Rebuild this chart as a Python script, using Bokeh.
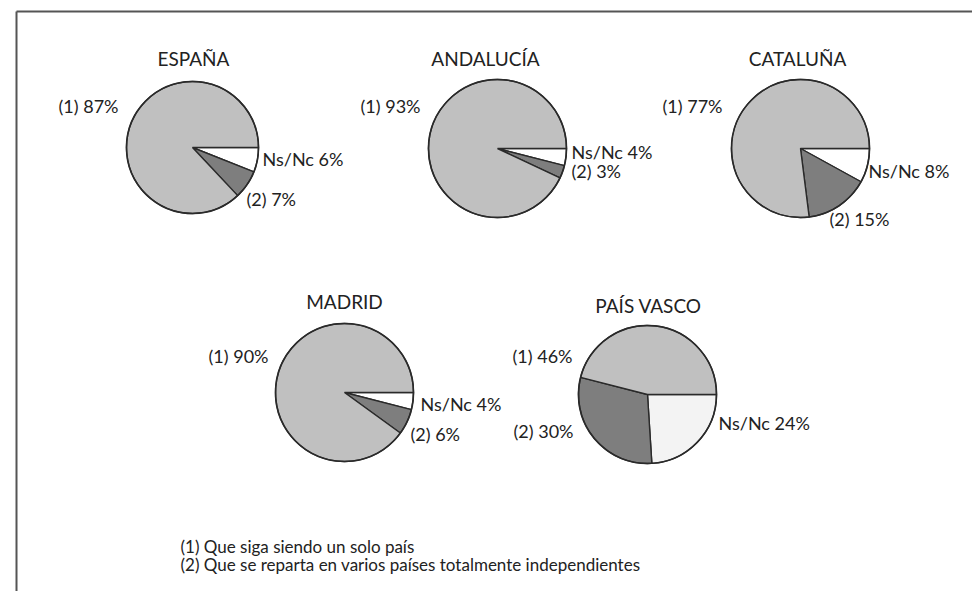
import math
from bokeh.plotting import figure
from bokeh.models import Range1d, ColumnDataSource
from bokeh.embed import file_html
from bokeh.resources import INLINE
from bokeh.core.properties import value

# ---- data ----
regions = ["ESPAÑA", "ANDALUCÍA", "CATALUÑA", "MADRID", "PAÍS VASCO"]
share_1 = [87, 93, 77, 90, 46]    # (1) Que siga siendo un solo país
share_2 = [7, 3, 15, 6, 30]       # (2) Que se reparta en varios países
share_ns = [6, 4, 8, 4, 24]       # Ns/Nc
legend_lines = ["(1) Que siga siendo un solo país",
                "(2) Que se reparta en varios países totalmente independientes"]

# ---- layout (screen pixel coordinates) ----
layout = [
    dict(cx=192, cy=147, r=66, tx=193, ty=58, l1=(118, 105, "right"), ns=(262, 158, "left"), l2=(246, 198, "left")),
    dict(cx=497, cy=148, r=69, tx=485, ty=58, l1=(420, 105, "right"), ns=(571, 151, "left"), l2=(571, 170, "left")),
    dict(cx=800, cy=148, r=69, tx=797, ty=58, l1=(722, 105, "right"), ns=(868, 170, "left"), l2=(829, 218, "left")),
    dict(cx=344, cy=392, r=69, tx=344, ty=301, l1=(268, 355, "right"), ns=(420, 403, "left"), l2=(410, 433, "left")),
    dict(cx=647, cy=394, r=69, tx=648, ty=305, l1=(572, 355, "right"), ns=(718, 422, "left"), l2=(573, 430, "right")),
]
C1, C2 = "#c0c0c0", "#7e7e7e"
CNS = ["#ffffff", "#ffffff", "#ffffff", "#ffffff", "#f3f3f3"]
FONT = value("Lato")
W, H = 972, 591

def Y(sy):
    return H - sy

p = figure(width=W, height=H, x_range=Range1d(0, W), y_range=Range1d(0, H),
           output_backend="svg", toolbar_location=None, min_border=0)
p.axis.visible = False
p.grid.visible = False
p.outline_line_color = None
p.background_fill_color = "white"

# frame
p.segment(x0=[16, 16], y0=[Y(11), Y(11)], x1=[W, 16], y1=[Y(11), Y(H)],
          line_color="#555555", line_width=2)

for i, name in enumerate(regions):
    L = layout[i]
    fr = [share_ns[i], share_2[i], share_1[i]]
    cols = [CNS[i], C2, C1]
    tot = sum(fr)
    cum = 0.0
    starts, ends = [], []
    for f in fr:
        a0 = cum / tot
        cum += f
        a1 = cum / tot
        starts.append(-a1 * 2 * math.pi)
        ends.append(-a0 * 2 * math.pi)
    src = ColumnDataSource(dict(x=[L["cx"]] * 3, y=[Y(L["cy"])] * 3, s=starts, e=ends, c=cols))
    p.wedge(x="x", y="y", radius=L["r"], radius_units="screen", start_angle="s", end_angle="e",
            fill_color="c", line_color="#2a2a2a", line_width=1.4, source=src)
    p.circle(x=[L["cx"]], y=[Y(L["cy"])], radius=L["r"], radius_units="screen",
             fill_color=None, line_color="#2a2a2a", line_width=1.6)
    p.text(x=[L["tx"]], y=[Y(L["ty"])], text=[name], text_align="center", text_baseline="middle",
           text_font=FONT, text_font_size="19px", text_color="#222222")
    labels = [("(1) %d%%" % share_1[i], L["l1"]),
              ("Ns/Nc %d%%" % share_ns[i], L["ns"]),
              ("(2) %d%%" % share_2[i], L["l2"])]
    for t, (lx, ly, al) in labels:
        p.text(x=[lx], y=[Y(ly)], text=[t], text_align=al, text_baseline="middle",
               text_font=FONT, text_font_size="18px", text_color="#222222")

p.text(x=[180, 180], y=[Y(546), Y(564)], text=legend_lines, text_align="left", text_baseline="middle",
       text_font=FONT, text_font_size="17px", text_color="#222222")

open("out.html", "w").write(file_html(p, INLINE))
